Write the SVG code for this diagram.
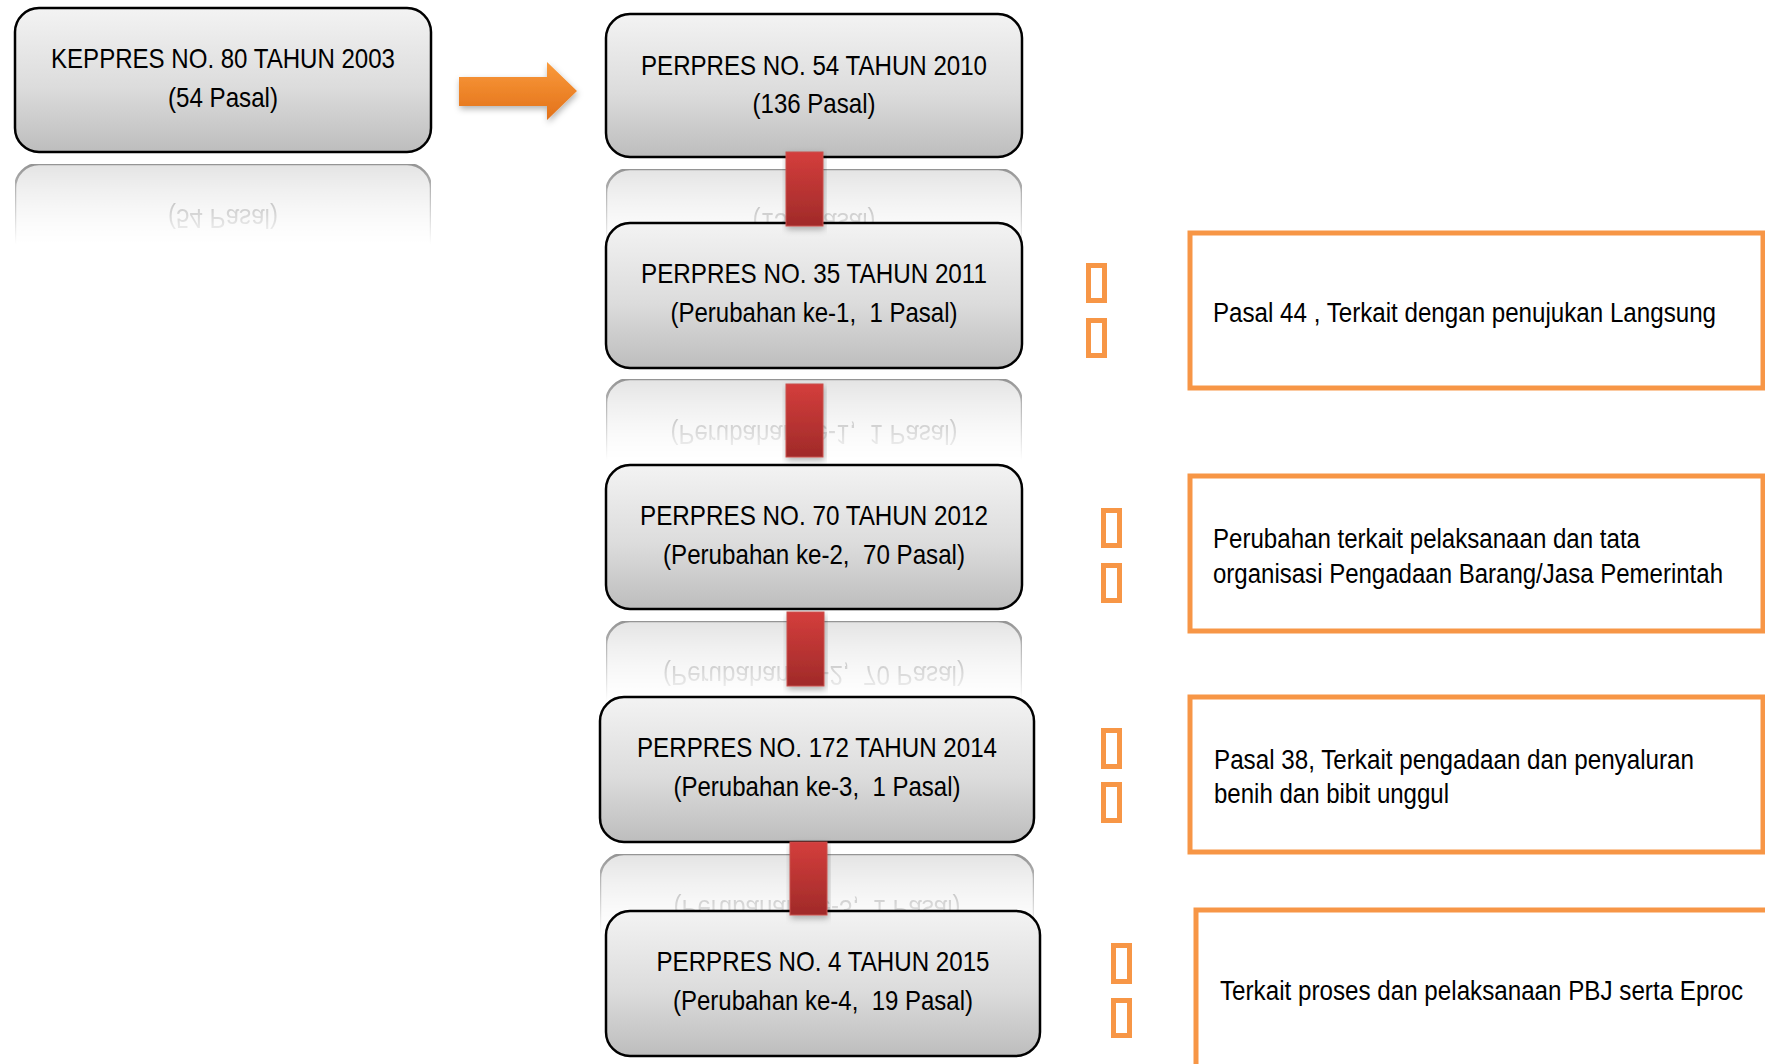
<svg xmlns="http://www.w3.org/2000/svg" xmlns:xlink="http://www.w3.org/1999/xlink" width="1765" height="1064" viewBox="0 0 1765 1064">
<defs>
  <linearGradient id="boxFill" x1="0" y1="0" x2="0" y2="1">
    <stop offset="0" stop-color="#f3f3f3"/>
    <stop offset="0.55" stop-color="#dcdcdc"/>
    <stop offset="1" stop-color="#bdbdbd"/>
  </linearGradient>
  <linearGradient id="barFill" x1="0" y1="0" x2="0" y2="1">
    <stop offset="0" stop-color="#d43e3c"/>
    <stop offset="1" stop-color="#a02a29"/>
  </linearGradient>
  <linearGradient id="arrowFill" x1="0" y1="0" x2="0" y2="1">
    <stop offset="0" stop-color="#fa9a3a"/>
    <stop offset="1" stop-color="#e2711a"/>
  </linearGradient>
  <linearGradient id="reflGrad" x1="0" y1="0" x2="0" y2="1">
    <stop offset="0" stop-color="#fff" stop-opacity="0.42"/>
    <stop offset="0.56" stop-color="#fff" stop-opacity="0"/>
  </linearGradient>
  <mask id="refl" maskContentUnits="objectBoundingBox">
    <rect x="0" y="0" width="1" height="1" fill="url(#reflGrad)"/>
  </mask>
  <filter id="shadow" x="-10%" y="-10%" width="120%" height="130%">
    <feDropShadow dx="1" dy="3" stdDeviation="3" flood-color="#000" flood-opacity="0.3"/>
  </filter>
  <style>
    .box { fill: url(#boxFill); stroke: #000; stroke-width: 2.5; }
    .t { font-family: "Liberation Sans Narrow", "Arial Narrow", "Liberation Sans", Arial, sans-serif; font-size: 28px; fill: #000; text-anchor: middle; white-space: pre; }
    .rt { font-family: "Liberation Sans Narrow", "Arial Narrow", "Liberation Sans", Arial, sans-serif; font-size: 27px; fill: #000; white-space: pre; }
    .obox { fill: #fff; stroke: #f79646; stroke-width: 5; }
    .sq { fill: none; stroke: #f79646; stroke-width: 5; }
    .bar { fill: url(#barFill); stroke: #c8504d; stroke-width: 1; filter: url(#shadow); }
  </style>
</defs>
<rect width="1765" height="1064" fill="#fff"/>

<!-- Node 1 -->
<g id="node-keppres-80-2003">
  <g id="b1">
    <rect class="box" x="15" y="8" width="416" height="144" rx="24"/>
    <text class="t" x="223" y="68" textLength="344" lengthAdjust="spacingAndGlyphs">KEPPRES NO. 80 TAHUN 2003</text>
    <text class="t" x="223" y="107" textLength="110" lengthAdjust="spacingAndGlyphs">(54 Pasal)</text>
  </g>
  <g mask="url(#refl)"><use xlink:href="#b1" href="#b1" transform="matrix(1 0 0 -1 0 316)"/></g>
</g>

<!-- Node 2 -->
<g id="node-perpres-54-2010">
  <g id="b2">
    <rect class="box" x="606" y="14" width="416" height="143" rx="24"/>
    <text class="t" x="814" y="75" textLength="346" lengthAdjust="spacingAndGlyphs">PERPRES NO. 54 TAHUN 2010</text>
    <text class="t" x="814" y="113" textLength="123" lengthAdjust="spacingAndGlyphs">(136 Pasal)</text>
  </g>
  <g mask="url(#refl)"><use xlink:href="#b2" href="#b2" transform="matrix(1 0 0 -1 0 326)"/></g>
</g>

<!-- Node 3 -->
<g id="node-perpres-35-2011">
  <g id="b3">
    <rect class="box" x="606" y="223" width="416" height="145" rx="24"/>
    <text class="t" x="814" y="283" textLength="346" lengthAdjust="spacingAndGlyphs">PERPRES NO. 35 TAHUN 2011</text>
    <text class="t" x="814" y="322" textLength="287" lengthAdjust="spacingAndGlyphs">(Perubahan ke-1,  1 Pasal)</text>
  </g>
  <g mask="url(#refl)"><use xlink:href="#b3" href="#b3" transform="matrix(1 0 0 -1 0 747)"/></g>
</g>

<!-- Node 4 -->
<g id="node-perpres-70-2012">
  <g id="b4">
    <rect class="box" x="606" y="465" width="416" height="144" rx="24"/>
    <text class="t" x="814" y="525" textLength="348" lengthAdjust="spacingAndGlyphs">PERPRES NO. 70 TAHUN 2012</text>
    <text class="t" x="814" y="564" textLength="302" lengthAdjust="spacingAndGlyphs">(Perubahan ke-2,  70 Pasal)</text>
  </g>
  <g mask="url(#refl)"><use xlink:href="#b4" href="#b4" transform="matrix(1 0 0 -1 0 1230)"/></g>
</g>

<!-- Node 5 -->
<g id="node-perpres-172-2014">
  <g id="b5">
    <rect class="box" x="600" y="697" width="434" height="145" rx="24"/>
    <text class="t" x="817" y="757" textLength="360" lengthAdjust="spacingAndGlyphs">PERPRES NO. 172 TAHUN 2014</text>
    <text class="t" x="817" y="796" textLength="287" lengthAdjust="spacingAndGlyphs">(Perubahan ke-3,  1 Pasal)</text>
  </g>
  <g mask="url(#refl)"><use xlink:href="#b5" href="#b5" transform="matrix(1 0 0 -1 0 1696)"/></g>
</g>

<!-- Node 6 -->
<g id="node-perpres-4-2015">
  <g id="b6">
    <rect class="box" x="606" y="911" width="434" height="145" rx="24"/>
    <text class="t" x="823" y="971" textLength="333" lengthAdjust="spacingAndGlyphs">PERPRES NO. 4 TAHUN 2015</text>
    <text class="t" x="823" y="1010" textLength="300" lengthAdjust="spacingAndGlyphs">(Perubahan ke-4,  19 Pasal)</text>
  </g>
</g>

<!-- Connectors -->
<g id="connectors">
  <polygon points="459,77 547,77 547,62 577,91 547,120 547,106 459,106" fill="url(#arrowFill)" filter="url(#shadow)"/>
  <rect class="bar" x="786" y="152" width="37" height="74"/>
  <rect class="bar" x="786" y="384" width="37" height="73"/>
  <rect class="bar" x="787" y="612" width="37" height="74"/>
  <rect class="bar" x="790" y="842" width="37" height="73"/>
</g>

<!-- Right notes -->
<g id="note-1">
  <rect class="obox" x="1190" y="233" width="573" height="155"/>
  <rect class="sq" x="1088.5" y="265.5" width="16" height="35"/>
  <rect class="sq" x="1088.5" y="320.5" width="16" height="35"/>
  <text class="rt" x="1213" y="322" textLength="503" lengthAdjust="spacingAndGlyphs">Pasal 44 , Terkait dengan penujukan Langsung</text>
</g>
<g id="note-2">
  <rect class="obox" x="1190" y="476" width="573" height="155"/>
  <rect class="sq" x="1103.5" y="510.5" width="16" height="35"/>
  <rect class="sq" x="1103.5" y="565.5" width="16" height="35"/>
  <text class="rt" x="1213" y="548" textLength="427" lengthAdjust="spacingAndGlyphs">Perubahan terkait pelaksanaan dan tata</text>
  <text class="rt" x="1213" y="583" textLength="510" lengthAdjust="spacingAndGlyphs">organisasi Pengadaan Barang/Jasa Pemerintah</text>
</g>
<g id="note-3">
  <rect class="obox" x="1190" y="697" width="573" height="155"/>
  <rect class="sq" x="1103.5" y="730.5" width="16" height="36"/>
  <rect class="sq" x="1103.5" y="784.5" width="16" height="36"/>
  <text class="rt" x="1214" y="769" textLength="480" lengthAdjust="spacingAndGlyphs">Pasal 38, Terkait pengadaan dan penyaluran</text>
  <text class="rt" x="1214" y="803" textLength="235" lengthAdjust="spacingAndGlyphs">benih dan bibit unggul</text>
</g>
<g id="note-4">
  <rect class="obox" x="1196" y="910" width="580" height="170"/>
  <rect class="sq" x="1113.5" y="945.5" width="16" height="36"/>
  <rect class="sq" x="1113.5" y="1000.5" width="16" height="35"/>
  <text class="rt" x="1220" y="1000" textLength="523" lengthAdjust="spacingAndGlyphs">Terkait proses dan pelaksanaan PBJ serta Eproc</text>
</g>
</svg>
